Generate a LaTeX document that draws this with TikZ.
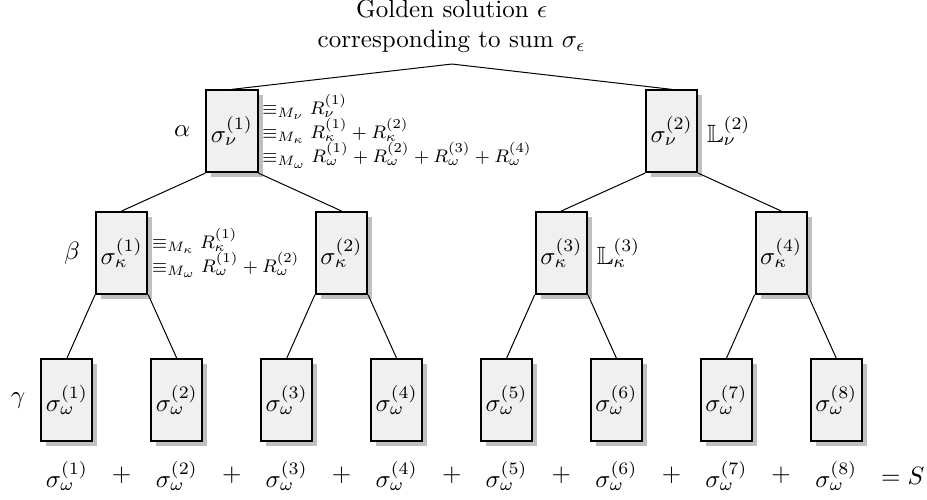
\documentclass[tikz,border=0pt]{standalone}
\usepackage{tikz}
\usetikzlibrary{positioning,shadows}
\usepackage{amsmath,amssymb}
\definecolor{boxfill}{HTML}{F0F0F0}
\definecolor{shade}{HTML}{C0C0C0}

\begin{document}
\begin{tikzpicture}[
  sbox/.style={draw,thick,fill=boxfill,minimum width=0.72cm,minimum height=1.15cm,inner sep=1pt,
    drop shadow={shadow xshift=2pt,shadow yshift=-2pt,fill=shade,opacity=1}},
  note/.style={align=left,font=\footnotesize,inner sep=1.5pt,scale=0.91,transform shape},
]
  \useasboundingbox (0,0) rectangle (13.03,7.015);

  % golden solution
  \coordinate (top) at (6.35,6.115);
  \node[align=center,above=1pt of top] (gold) {Golden solution $\epsilon$\\corresponding to sum $\sigma_\epsilon$};

  % nu level
  \node[sbox] (nu1) at (3.26,5.17) {$\sigma_\nu^{(1)}$};
  \node[sbox] (nu2) at (9.44,5.17) {$\sigma_\nu^{(2)}$};
  \node[left=2.5pt of nu1] (alpha) {$\alpha$};
  \node[note,right=0pt of nu1] (nu1eq) {$\equiv_{M_\nu} R_\nu^{(1)}$\\[-1.5pt]
    $\equiv_{M_\kappa} R_\kappa^{(1)}+R_\kappa^{(2)}$\\[-1.5pt]
    $\equiv_{M_\omega} R_\omega^{(1)}+R_\omega^{(2)}+R_\omega^{(3)}+R_\omega^{(4)}$};
  \node[right=0pt of nu2] (nu2L) {$\mathbb{L}_\nu^{(2)}$};

  % kappa level
  \node[sbox] (ka1) at (1.71,3.46) {$\sigma_\kappa^{(1)}$};
  \node[sbox] (ka2) at (4.80,3.46) {$\sigma_\kappa^{(2)}$};
  \node[sbox] (ka3) at (7.89,3.46) {$\sigma_\kappa^{(3)}$};
  \node[sbox] (ka4) at (10.98,3.46) {$\sigma_\kappa^{(4)}$};
  \node[left=2.5pt of ka1] (beta) {$\beta$};
  \node[note,right=0pt of ka1] (ka1eq) {$\equiv_{M_\kappa} R_\kappa^{(1)}$\\[-1.5pt]
    $\equiv_{M_\omega} R_\omega^{(1)}+R_\omega^{(2)}$};
  \node[right=0pt of ka3] (ka3L) {$\mathbb{L}_\kappa^{(3)}$};

  % omega level
  \node[sbox] (om1) at (0.94,1.39) {$\sigma_\omega^{(1)}$};
  \node[sbox] (om2) at (2.485,1.39) {$\sigma_\omega^{(2)}$};
  \node[sbox] (om3) at (4.03,1.39) {$\sigma_\omega^{(3)}$};
  \node[sbox] (om4) at (5.575,1.39) {$\sigma_\omega^{(4)}$};
  \node[sbox] (om5) at (7.12,1.39) {$\sigma_\omega^{(5)}$};
  \node[sbox] (om6) at (8.665,1.39) {$\sigma_\omega^{(6)}$};
  \node[sbox] (om7) at (10.21,1.39) {$\sigma_\omega^{(7)}$};
  \node[sbox] (om8) at (11.755,1.39) {$\sigma_\omega^{(8)}$};
  \node[left=2.5pt of om1] (gamma) {$\gamma$};

  % edges
  \draw (top) -- (nu1.north);
  \draw (top) -- (nu2.north);
  \draw (nu1.south west) -- (ka1.north);
  \draw (nu1.south east) -- (ka2.north);
  \draw (nu2.south west) -- (ka3.north);
  \draw (nu2.south east) -- (ka4.north);
  \draw (ka1.south west) -- (om1.north);
  \draw (ka1.south east) -- (om2.north);
  \draw (ka2.south west) -- (om3.north);
  \draw (ka2.south east) -- (om4.north);
  \draw (ka3.south west) -- (om5.north);
  \draw (ka3.south east) -- (om6.north);
  \draw (ka4.south west) -- (om7.north);
  \draw (ka4.south east) -- (om8.north);

  % sum row
  \node (s1) at (0.94,0.33) {$\sigma_\omega^{(1)}$};
  \node (p1) at (1.71,0.33) {$+$};
  \node (s2) at (2.485,0.33) {$\sigma_\omega^{(2)}$};
  \node (p2) at (3.26,0.33) {$+$};
  \node (s3) at (4.03,0.33) {$\sigma_\omega^{(3)}$};
  \node (p3) at (4.80,0.33) {$+$};
  \node (s4) at (5.575,0.33) {$\sigma_\omega^{(4)}$};
  \node (p4) at (6.35,0.33) {$+$};
  \node (s5) at (7.12,0.33) {$\sigma_\omega^{(5)}$};
  \node (p5) at (7.89,0.33) {$+$};
  \node (s6) at (8.665,0.33) {$\sigma_\omega^{(6)}$};
  \node (p6) at (9.44,0.33) {$+$};
  \node (s7) at (10.21,0.33) {$\sigma_\omega^{(7)}$};
  \node (p7) at (10.98,0.33) {$+$};
  \node (s8) at (11.755,0.33) {$\sigma_\omega^{(8)}$};
  \node (sumS) at (12.69,0.33) {$=S$};
\end{tikzpicture}
\end{document}
